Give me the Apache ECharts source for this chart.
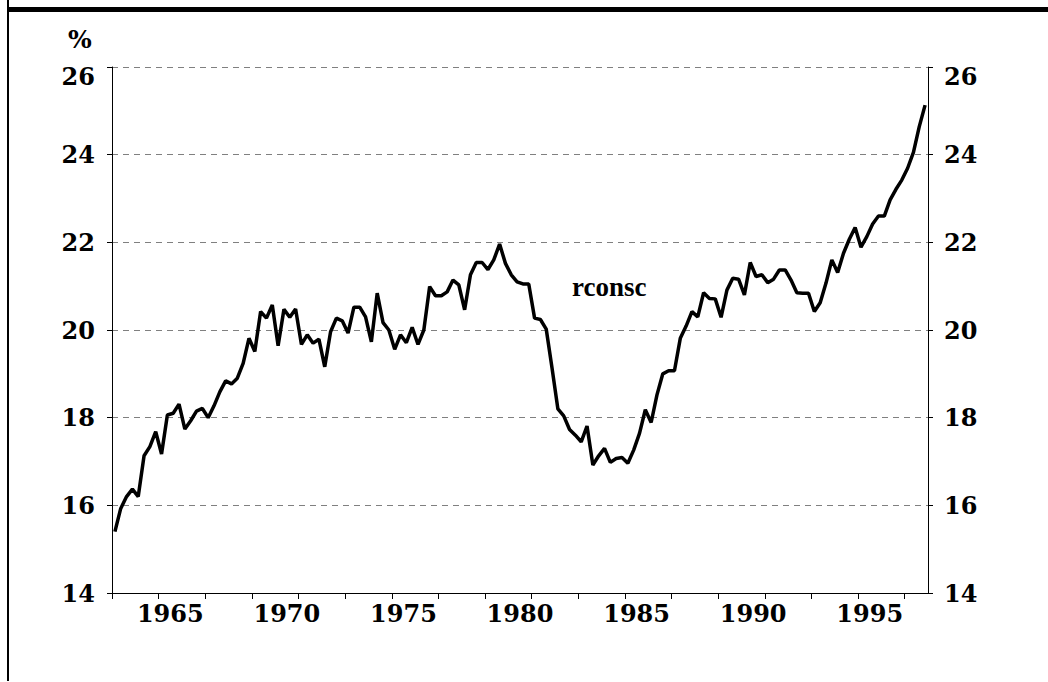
<!DOCTYPE html>
<html lang="en">
<head>
    <meta charset="UTF-8">
    <title>rconsc</title>
    <script src="https://cdn.jsdelivr.net/npm/echarts@6.0.0/dist/echarts.min.js"></script>
    <style>
        html, body { margin: 0; padding: 0; background: #fff; }
        #main { width: 1048px; height: 682px; }
    </style>
</head>
<body>
<div id="main"></div>

<script type="text/javascript">
    // quarterly series, first point is 1962 Q3
    var firstYear = 1962;
    var firstQuarter = 3;
    var rconsc = [
        15.40, 15.93, 16.20, 16.37, 16.20, 17.13, 17.34, 17.68, 17.17, 18.06,
        18.10, 18.31, 17.74, 17.93, 18.15, 18.21, 18.00, 18.27, 18.59, 18.84,
        18.77, 18.90, 19.24, 19.81, 19.51, 20.42, 20.27, 20.57, 19.64, 20.47,
        20.29, 20.48, 19.67, 19.89, 19.70, 19.79, 19.16, 19.96, 20.27, 20.21,
        19.93, 20.52, 20.52, 20.30, 19.73, 20.84, 20.17, 20.00, 19.56, 19.89,
        19.71, 20.06, 19.67, 20.00, 20.99, 20.78, 20.78, 20.87, 21.14, 21.03,
        20.46, 21.26, 21.54, 21.54, 21.38, 21.60, 21.96, 21.52, 21.26, 21.10,
        21.05, 21.05, 20.27, 20.24, 20.02, 19.13, 18.20, 18.04, 17.73, 17.60,
        17.45, 17.81, 16.92, 17.13, 17.30, 16.98, 17.07, 17.09, 16.96, 17.26,
        17.64, 18.18, 17.89, 18.52, 19.00, 19.07, 19.07, 19.81, 20.09, 20.42,
        20.30, 20.85, 20.72, 20.71, 20.29, 20.91, 21.18, 21.16, 20.80, 21.54,
        21.22, 21.26, 21.08, 21.16, 21.37, 21.37, 21.14, 20.85, 20.84, 20.84,
        20.42, 20.62, 21.07, 21.60, 21.31, 21.75, 22.07, 22.34, 21.89, 22.13,
        22.42, 22.60, 22.60, 22.97, 23.21, 23.42, 23.69, 24.05, 24.64, 25.13
    ];
    var xTickYears = [1962.5, 1964.5, 1966.5, 1968.5, 1970.5, 1972.5, 1974.5, 1976.5, 1978.5,
        1980.5, 1982.5, 1984.5, 1986.5, 1988.5, 1990.5, 1992.5, 1994.5, 1996.5];
    var xLabelYears = [1965, 1970, 1975, 1980, 1985, 1990, 1995];

    // quarter -> position at the middle of the quarter
    var points = [];
    for (var i = 0; i < rconsc.length; i++) {
        var q = (firstQuarter - 1) + i;
        var t = firstYear + Math.floor(q / 4) + ((q % 4) + 0.5) / 4;
        points.push([t, rconsc[i]]);
    }

    var font = 'DejaVu Serif';
    var labelStyle = {
        fontFamily: font,
        fontWeight: 'bold',
        fontSize: 24,
        color: '#000'
    };

    function yLabel(v) {
        // the top label sits a bit below its gridline
        if (v === 26) return '{top|26}';
        return '{n|' + v + '}';
    }
    var yRich = {
        top: { fontFamily: font, fontWeight: 'bold', fontSize: 24, color: '#000', padding: [18, 0, 0, 0] },
        n: { fontFamily: font, fontWeight: 'bold', fontSize: 24, color: '#000' }
    };

    var myChart = echarts.init(document.getElementById('main'), null, { renderer: 'svg' });

    var option = {
        animation: false,
        backgroundColor: '#fff',
        grid: { left: 112, right: 120, top: 67, bottom: 89 },
        graphic: [
            { type: 'rect', shape: { x: 7, y: 0, width: 2, height: 681 }, style: { fill: '#000' } },
            { type: 'rect', shape: { x: 7, y: 7, width: 1041, height: 5 }, style: { fill: '#000' } },
            {
                type: 'text', left: 68, top: 27,
                style: { text: '%', fontFamily: font, fontWeight: 'bold', fontSize: 25, fill: '#000' }
            },
            {
                type: 'text', left: 572, top: 273,
                style: { text: 'rconsc', fontFamily: 'Liberation Serif', fontWeight: 'bold', fontSize: 27, fill: '#000' }
            }
        ],
        xAxis: {
            type: 'value',
            min: 1962.5,
            max: 1997.5,
            axisLine: { onZero: false, lineStyle: { color: '#000', width: 1 } },
            axisTick: { show: true, length: 6, customValues: xTickYears, lineStyle: { color: '#000' } },
            axisLabel: Object.assign({ margin: 8, customValues: xLabelYears, formatter: function (v) { return String(Math.round(v)); } }, labelStyle),
            splitLine: { show: false }
        },
        yAxis: [
            {
                type: 'value',
                position: 'left',
                min: 14, max: 26, interval: 2,
                axisLine: { show: true, lineStyle: { color: '#000', width: 1 } },
                axisTick: { show: true, length: 5, lineStyle: { color: '#000' } },
                axisLabel: { margin: 17, formatter: yLabel, rich: yRich },
                splitLine: { show: true, lineStyle: { color: '#808080', type: [6, 5], width: 1 } }
            },
            {
                type: 'value',
                position: 'right',
                min: 14, max: 26, interval: 2,
                axisLine: { show: true, lineStyle: { color: '#000', width: 1 } },
                axisTick: { show: true, length: 5, lineStyle: { color: '#000' } },
                axisLabel: { margin: 16, formatter: yLabel, rich: yRich },
                splitLine: { show: false }
            }
        ],
        series: [{
            name: 'rconsc',
            type: 'line',
            yAxisIndex: 0,
            data: points,
            showSymbol: false,
            lineStyle: { color: '#000', width: 3.5 },
            z: 5
        }]
    };
    myChart.setOption(option);
</script>
</body>
</html>
